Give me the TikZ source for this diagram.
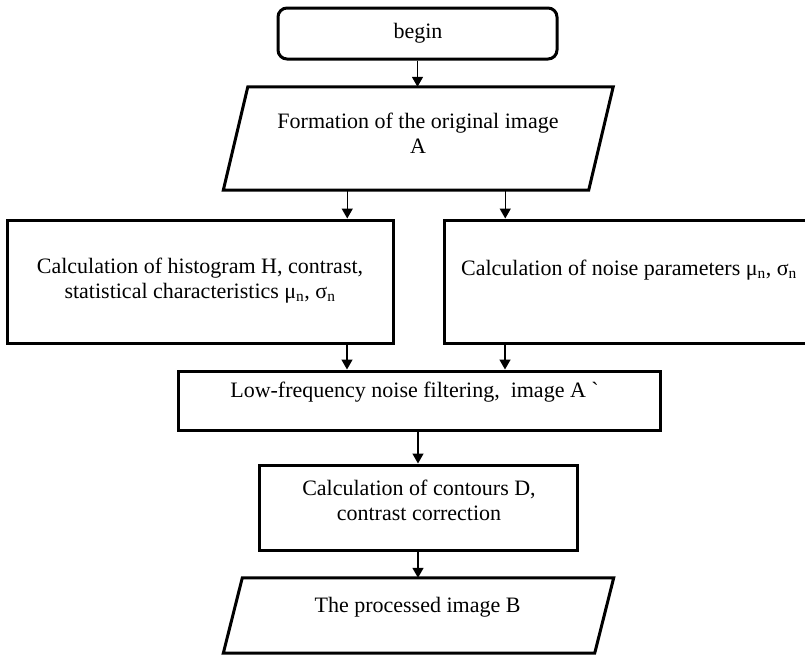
\documentclass[tikz,border=0pt]{standalone}
\usepackage{fontspec}
\setmainfont{Liberation Serif}
\usetikzlibrary{arrows.meta}
\begin{document}
\begin{tikzpicture}[x=1pt,y=-1pt,
  box/.style={draw, line width=3pt, inner sep=0pt},
  ghost/.style={draw=none, inner sep=0pt},
  txt/.style={align=center, font=\fontsize{22}{25}\selectfont, inner sep=0pt},
  arr/.style={line width=1.5pt, -{Triangle[length=10pt,width=11pt]}}]
\useasboundingbox (0,0) rectangle (805,657);
\clip (0,0) rectangle (805,657);

% begin
\node[box, rounded corners=9pt, minimum width=279pt, minimum height=51pt] (begin) at (417.5,33.5) {};
\node[txt] (begint) at (418,33) {begin};

% parallelogram 1
\node[ghost, minimum width=365pt, minimum height=103pt] (p1) at (418.25,138.5) {};
\draw[box] ([xshift=12.25pt]p1.north west) -- ([xshift=12.25pt]p1.north east)
  -- ([xshift=-12.25pt]p1.south east) -- ([xshift=-12.25pt]p1.south west) -- cycle;
\node[txt] (p1t) at (418,133.5) {Formation of the original image\\A};

% left box
\node[box, minimum width=386pt, minimum height=123pt] (lb) at (200,281.5) {};
\node[txt] (lbt) at (200,280.5) {Calculation of histogram H, contrast,\\statistical characteristics μ\textsubscript{n}, σ\textsubscript{n}};

% right box
\node[box, minimum width=368pt, minimum height=123pt] (rb) at (628,281.5) {};
\node[txt] (rbt) at (629,270) {Calculation of noise parameters μ\textsubscript{n}, σ\textsubscript{n}};

% low-frequency box
\node[box, minimum width=482pt, minimum height=59pt] (lf) at (419,400.5) {};
\node[txt] (lft) at (414.5,392) {Low-frequency noise filtering,\ \ image A \textasciigrave};

% contours box
\node[box, minimum width=318pt, minimum height=85pt] (ct) at (418,507.5) {};
\node[txt] (ctt) at (419,500) {Calculation of contours D,\\contrast correction};

% parallelogram 2
\node[ghost, minimum width=371pt, minimum height=75pt] (p2) at (418.5,615.5) {};
\draw[box] ([xshift=9.5pt]p2.north west) -- ([xshift=9.5pt]p2.north east)
  -- ([xshift=-9.5pt]p2.south east) -- ([xshift=-9.5pt]p2.south west) -- cycle;
\node[txt] (p2t) at (417.5,607) {The processed image B};

% connectors
\coordinate (a1) at ([xshift=-71pt]p1.south);
\coordinate (a2) at ([xshift=87pt]p1.south);
\coordinate (a3) at ([xshift=147pt]lb.south);
\coordinate (a4) at ([xshift=-123pt]rb.south);
\draw[arr] (begin.south) -- (begin.south |- p1.north);
\draw[arr] (a1) -- (a1 |- lb.north);
\draw[arr] (a2) -- (a2 |- rb.north);
\draw[arr] (a3) -- (a3 |- lf.north);
\draw[arr] (a4) -- (a4 |- lf.north);
\draw[arr] (lf.south -| ct.north) -- (ct.north);
\draw[arr] (ct.south) -- (ct.south |- p2.north);
\end{tikzpicture}
\end{document}
